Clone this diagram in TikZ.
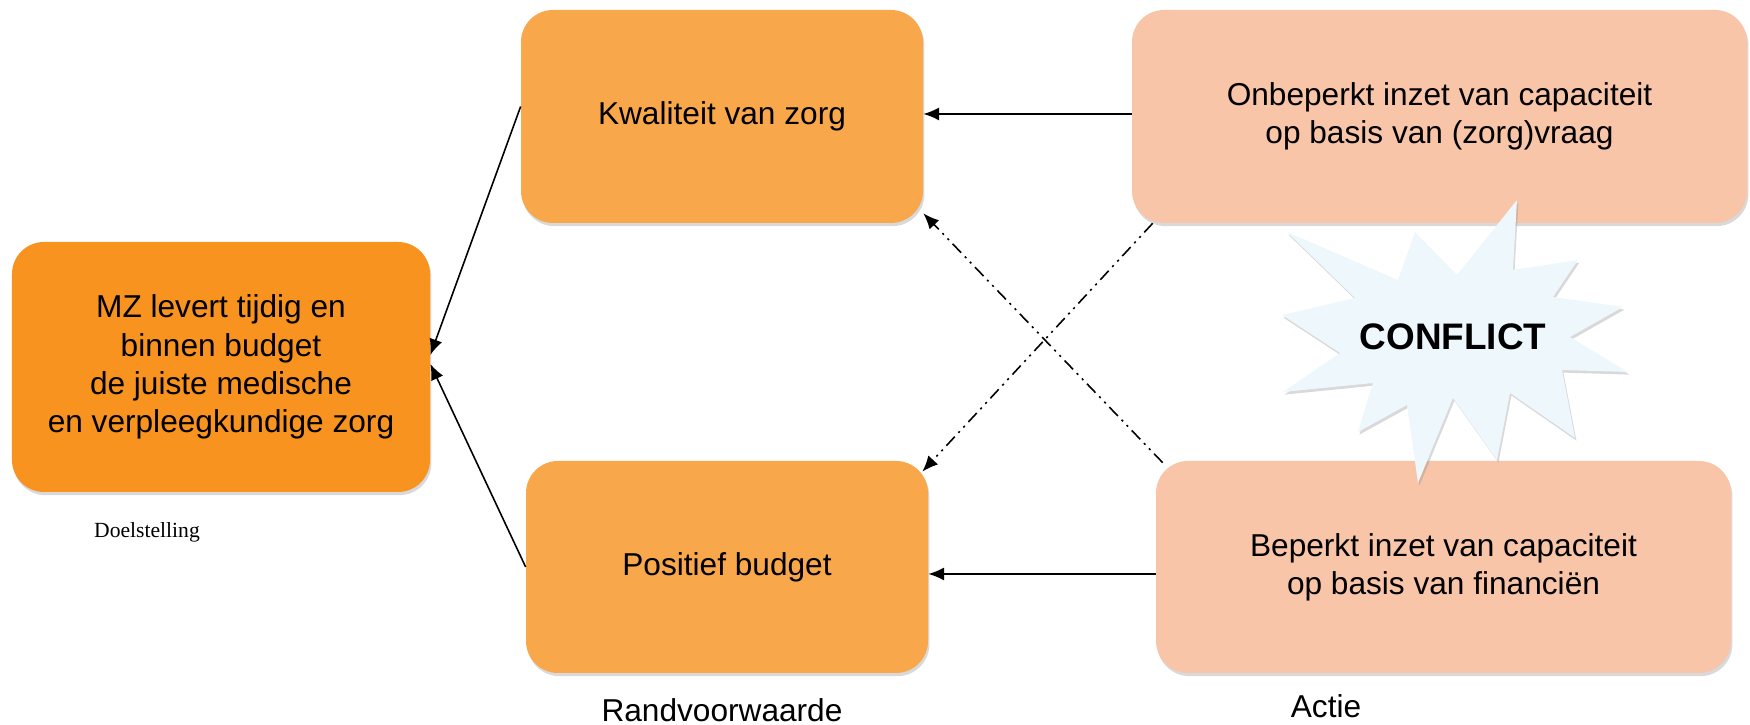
\documentclass[tikz,border=0pt]{standalone}
\usepackage{fontspec}
\setmainfont{Liberation Serif}
\setsansfont{Liberation Sans}
\usetikzlibrary{arrows.meta,shadows}

\definecolor{doelkleur}{HTML}{F7931E}
\definecolor{randkleur}{HTML}{F8A74B}
\definecolor{actiekleur}{HTML}{F8C5A9}
\definecolor{conflictkleur}{HTML}{EEF7FC}

\tikzset{
    blok/.style={rectangle, rounded corners=0.64cm, align=center, inner sep=0pt,
        font=\sffamily\fontsize{18}{21.8}\selectfont,
        drop shadow={shadow xshift=0.8pt, shadow yshift=-1.8pt, opacity=0.3}},
    doel/.style={blok, fill=doelkleur},
    rand/.style={blok, fill=randkleur},
    actie/.style={blok, fill=actiekleur},
    label/.style={font=\sffamily\fontsize{18}{21.8}\selectfont},
    pijl/.style={line width=0.9pt, -{Latex[length=9pt,width=7.5pt]}},
    streeppijl/.style={pijl, dash pattern=on 7pt off 3pt on 1.2pt off 3pt on 1.2pt off 3pt}
}

\begin{document}
\begin{tikzpicture}
    \useasboundingbox (0,0) rectangle (35,14.5);

    \node[doel, minimum width=8.36cm, minimum height=5cm] (mz) at (4.42, 7.16)
        {MZ levert tijdig en\\binnen budget\\de juiste medische\\en verpleegkundige zorg};
    \node[rand, minimum width=8.04cm, minimum height=4.26cm] (kwal) at (14.44, 12.17) {Kwaliteit van zorg};
    \node[rand, minimum width=8.04cm, minimum height=4.24cm] (pos) at (14.54, 3.16) {Positief budget};
    \node[actie, minimum width=12.3cm, minimum height=4.26cm] (onb) at (28.79, 12.17)
        {Onbeperkt inzet van capaciteit\\op basis van (zorg)vraag};
    \node[actie, minimum width=11.5cm, minimum height=4.24cm] (bep) at (28.87, 3.16)
        {Beperkt inzet van capaciteit\\op basis van financiën};

    \node[font=\rmfamily\fontsize{12.3}{14}\selectfont] (doelst) at (2.94, 3.86) {Doelstelling};
    \node[label] (randvw) at (14.44, 0.3) {Randvoorwaarde};
    \node[label] (actie) at (26.52, 0.38) {Actie};

    \draw[pijl] ([yshift=0.05cm]onb.west) -- ([yshift=0.05cm]onb.west -| kwal.east);
    \draw[pijl] ([yshift=-0.14cm]bep.west) -- ([yshift=-0.14cm]bep.west -| pos.east);
    \draw[pijl] ([yshift=0.2cm]kwal.west) -- ([yshift=0.24cm]mz.east);
    \draw[pijl] (pos.west) -- ([yshift=0.06cm]mz.east);

    \draw[streeppijl] ([xshift=0.42cm]onb.south west) -- ([xshift=-0.12cm,yshift=-0.22cm]pos.north east);
    \draw[streeppijl] ([xshift=0.14cm,yshift=-0.04cm]bep.north west) -- ([yshift=0.2cm]kwal.south east);

    \draw[fill=conflictkleur, draw=none, drop shadow={shadow xshift=0.8pt, shadow yshift=-1.5pt, opacity=0.3}]
        (30.34,10.5) -- (30.26,9.1) -- (31.56,9.3) -- (31.06,8.56) -- (32.46,8.36) -- (31.4,7.76)
        -- (32.56,7.06) -- (31.24,7.1) -- (31.5,5.74) -- (30.2,6.64) -- (29.94,5.3) -- (29.06,6.54)
        -- (28.36,4.84) -- (28.14,6.4) -- (27.16,5.86) -- (27.46,6.84) -- (25.66,6.66) -- (26.8,7.44)
        -- (25.64,8.2) -- (27.1,8.54) -- (25.74,9.86) -- (27.96,8.9) -- (28.3,9.86) -- (29.14,9.0) -- cycle;
    \node[font=\sffamily\bfseries\fontsize{21}{25}\selectfont] (conflict) at (29.06, 7.76) {CONFLICT};
\end{tikzpicture}
\end{document}
